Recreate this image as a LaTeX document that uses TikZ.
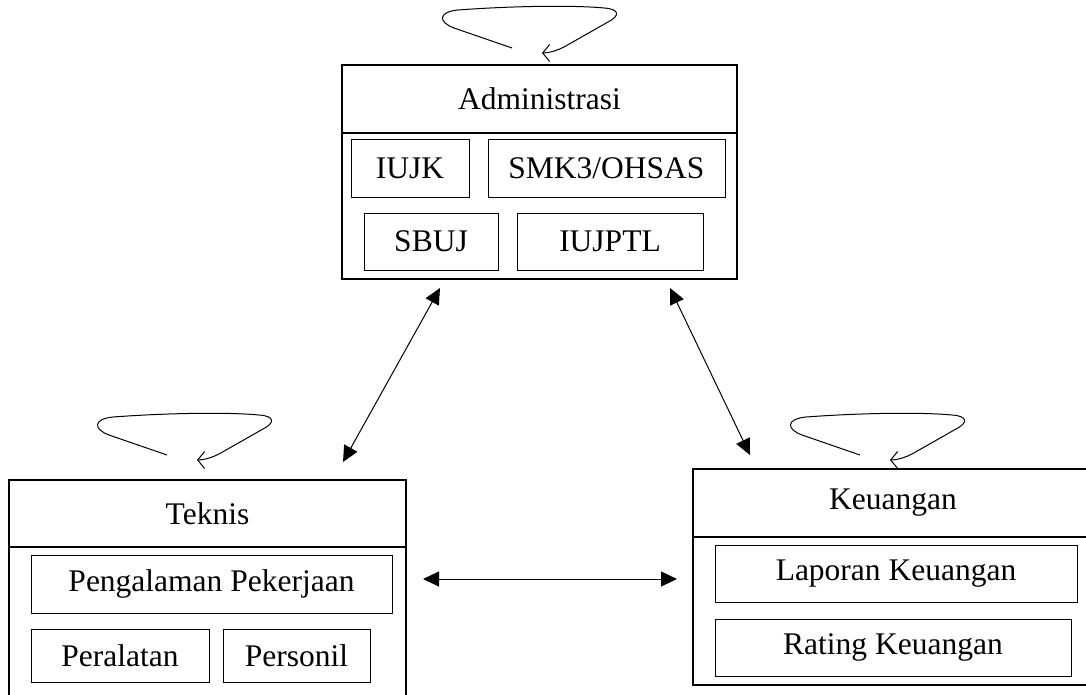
\documentclass[tikz,border=0pt]{standalone}
\usepackage{fontspec}
\setmainfont{Liberation Serif}
\usetikzlibrary{arrows.meta,calc}
\begin{document}
\begin{tikzpicture}[x=1pt,y=-1pt,
  outerbox/.style={draw,line width=2.5pt,inner sep=0pt},
  innerbox/.style={draw,line width=1pt,inner sep=0pt},
  lbl/.style={font=\fontsize{31.5}{36}\selectfont},
  link/.style={line width=1pt,{Triangle[length=16pt,width=15pt]}-{Triangle[length=16pt,width=15pt]}},
  selfloop/.style={line width=1pt,-{Straight Barb[length=7pt,width=17pt]}}]
\useasboundingbox (0,0) rectangle (1086,695);
\clip (0,0) rectangle (1086,695);
\fill[white] (0,0) rectangle (1086,695);

% Administrasi
\node[outerbox,minimum width=395pt,minimum height=214pt] (adm) at (539.5,172) {};
\node[outerbox,lbl,minimum width=395pt,minimum height=68pt] (admt) at (539.5,99) {Administrasi};
\node[innerbox,lbl,minimum width=118pt,minimum height=57pt] (iujk) at (410,168.5) {IUJK};
\node[innerbox,lbl,minimum width=237pt,minimum height=57pt] (smk) at (606.5,168.5) {SMK3/OHSAS};
\node[innerbox,lbl,minimum width=134pt,minimum height=57pt] (sbuj) at (431,241.5) {SBUJ};
\node[innerbox,lbl,minimum width=186pt,minimum height=57pt] (iujptl) at (610,241.5) {IUJPTL};

% Teknis
\node[outerbox,minimum width=397pt,minimum height=222pt] (tek) at (207.5,591) {};
\node[outerbox,lbl,minimum width=397pt,minimum height=67pt] (tekt) at (207.5,513.5) {Teknis};
\node[innerbox,lbl,minimum width=361pt,minimum height=58pt] (peng) at (211.5,584) {Pengalaman Pekerjaan};
\node[innerbox,lbl,minimum width=178pt,minimum height=53pt] (peral) at (120,655.5) {Peralatan};
\node[innerbox,lbl,minimum width=147pt,minimum height=53pt] (pers) at (296.5,655.5) {Personil};

% Keuangan
\node[outerbox,minimum width=400pt,minimum height=216pt] (keu) at (893,577) {};
\node[outerbox,lbl,minimum width=400pt,minimum height=68pt] (keut) at (893,503) {Keuangan};
\node[innerbox,lbl,minimum width=362pt,minimum height=57pt] (lap) at (896,573.5) {Laporan Keuangan};
\node[innerbox,lbl,minimum width=356pt,minimum height=57pt] (rat) at (893,647.5) {Rating Keuangan};

% connector end points
\coordinate (admL) at (440,288);
\coordinate (tekR) at (343,462);
\coordinate (admR) at (670,288);
\coordinate (keuL) at (750,455);
\coordinate (tekE) at (423,579);
\coordinate (keuW) at (677,579);

\draw[link] (admL) -- (tekR);
\draw[link] (admR) -- (keuL);
\draw[link] (tekE) -- (keuW);

% self loops
\coordinate (admtip) at (542,53);
\coordinate (tektip) at (197,460);
\coordinate (keutip) at (890,460);
\foreach \t in {admtip,tektip,keutip}{
  \begin{scope}[shift={(\t)}]
    \draw[selfloop] (-30,-5) -- (-88,-25) .. controls (-104,-31) and (-104,-41) .. (-84,-43)
      .. controls (-30,-47) and (30,-48) .. (62,-45) .. controls (78,-44) and (78,-37) .. (66,-31)
      -- (22,-6) .. controls (16,-3) and (8,0) .. (0,0);
  \end{scope}
}
\end{tikzpicture}
\end{document}
